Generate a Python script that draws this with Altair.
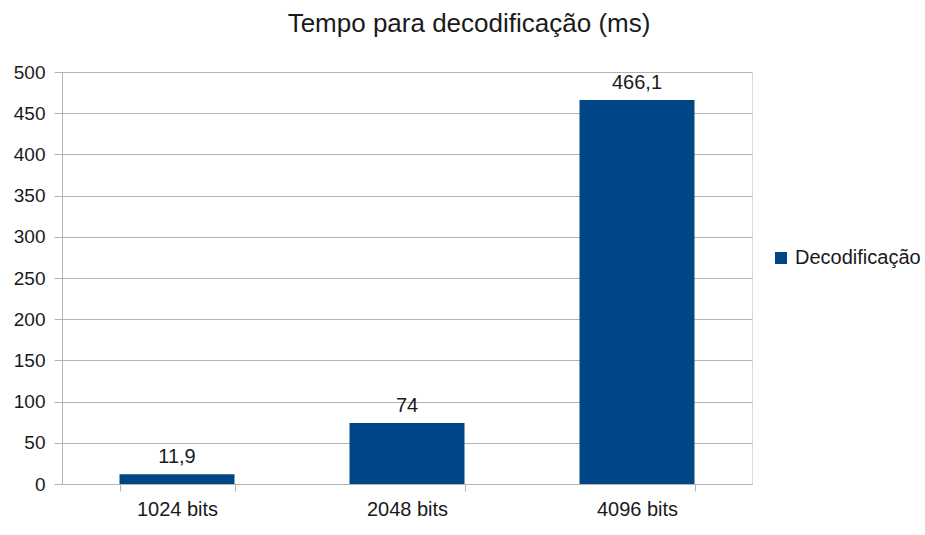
import altair as alt
import pandas as pd

categories = ["1024 bits", "2048 bits", "4096 bits"]
values = [11.9, 74, 466.1]
series_name = "Decodificação"
value_labels = ["11,9", "74", "466,1"]

df = pd.DataFrame({
    "cat": categories,
    "val": values,
    "label": value_labels,
    "series": [series_name] * len(categories),
})

FONT = "Liberation Sans"
GRID = "#b3b3b3"
TXT = "#1a1a1a"
BLUE = "#004586"

x = alt.X("cat:N", sort=categories, title=None,
          scale=alt.Scale(paddingInner=0.5, paddingOuter=0.25),
          axis=alt.Axis(labelAngle=0, tickBand="extent", tickSize=7, labelPadding=8,
                        labelFontSize=20, labelColor=TXT, labelFont=FONT,
                        domainColor=GRID, tickColor=GRID, grid=False))
y = alt.Y("val:Q", title=None,
          scale=alt.Scale(domain=[0, 500], nice=False),
          axis=alt.Axis(values=list(range(0, 501, 50)), tickSize=8, labelPadding=9,
                        labelFontSize=19, labelColor=TXT, labelFont=FONT,
                        domainColor=GRID, tickColor=GRID, gridColor=GRID))

bars = alt.Chart(df).mark_bar(size=115).encode(
    x=x, y=y,
    color=alt.Color("series:N", scale=alt.Scale(range=[BLUE]),
                    legend=alt.Legend(title=None, orient="none", legendX=709, legendY=176,
                                      symbolType="square", symbolSize=144, symbolStrokeWidth=0,
                                      labelFontSize=20, labelFont=FONT, labelColor=TXT,
                                      symbolOffset=0, labelOffset=4)),
)

text = alt.Chart(df).mark_text(baseline="alphabetic", dy=-11, fontSize=20, font=FONT, color=TXT).encode(
    x=alt.X("cat:N", sort=categories),
    y="val:Q",
    text="label:N",
)

chart = (bars + text).properties(
    width=690, height=412,
    title=alt.TitleParams("Tempo para decodificação (ms)", anchor="middle", frame="group",
                          dx=62, fontSize=26, font=FONT, fontWeight="normal", color=TXT,
                          baseline="alphabetic", offset=5),
    autosize=alt.AutoSizeParams(type="none"),
    padding={"left": 62, "top": 72, "right": 173, "bottom": 51},
).configure_view(stroke=GRID).configure(background="white")

chart.save("out.html", embed_options={"renderer": "svg", "actions": False})
